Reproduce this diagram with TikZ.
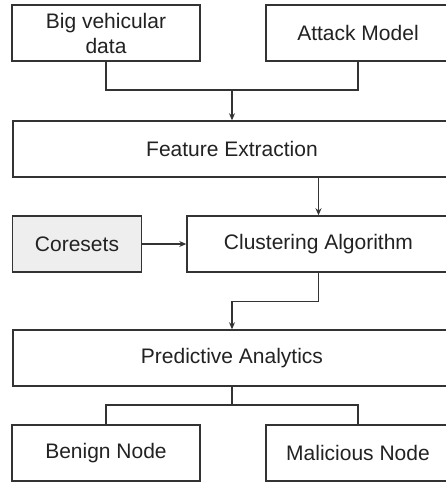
\documentclass[tikz,border=0pt]{standalone}
\usepackage{fontspec}
\setmainfont{Liberation Sans}
\usetikzlibrary{arrows.meta,calc}
\definecolor{linec}{HTML}{333333}
\definecolor{textc}{HTML}{222222}
\definecolor{corefill}{HTML}{EEEEEE}
\begin{document}
\begin{tikzpicture}[x=1pt,y=-1pt,
  box/.style={draw=linec,line width=1.5pt,rectangle,inner sep=0pt,text=textc,
    font=\fontsize{21}{25}\selectfont,align=center},
  conn/.style={draw=linec,line width=1.4pt},
  arr/.style={conn,-{Stealth[length=7pt,width=6pt]}}]
\useasboundingbox (0,0) rectangle (446,483);
\fill[white] (0,0) rectangle (446,483);
\node[box,minimum width=188pt,minimum height=56pt] (big) at (106,33) {Big vehicular\\data};
\node[box,minimum width=184pt,minimum height=56pt] (attack) at (358,33) {Attack Model};
\node[box,minimum width=438pt,minimum height=56pt] (fe) at (232,149) {Feature Extraction};
\node[box,fill=corefill,minimum width=129pt,minimum height=56pt] (core) at (77,244) {Coresets};
\node[box,minimum width=263pt,minimum height=56pt] (cl) at (318.5,244) {Clustering Algorithm};
\node[box,minimum width=438pt,minimum height=56pt] (pa) at (232,358) {Predictive Analytics};
\node[box,minimum width=188pt,minimum height=56pt] (ben) at (106,453) {Benign Node};
\node[box,minimum width=184pt,minimum height=56pt] (mal) at (358,453) {Malicious Node};
\coordinate (j1) at (fe.north |- 0,90);
\coordinate (j2) at (pa.south |- 0,405);
\draw[conn] (big.south) |- (j1) -| (attack.south);
\draw[arr] (j1) -- (fe.north);
\draw[arr] (cl.north |- fe.south) -- (cl.north);
\draw[arr] (core.east) -- (cl.west);
\draw[arr] (cl.south) -- ++(0,29) -| (pa.north);
\draw[conn] (pa.south) -- (j2);
\draw[conn] (ben.north) |- (j2) -| (mal.north);
\end{tikzpicture}
\end{document}
